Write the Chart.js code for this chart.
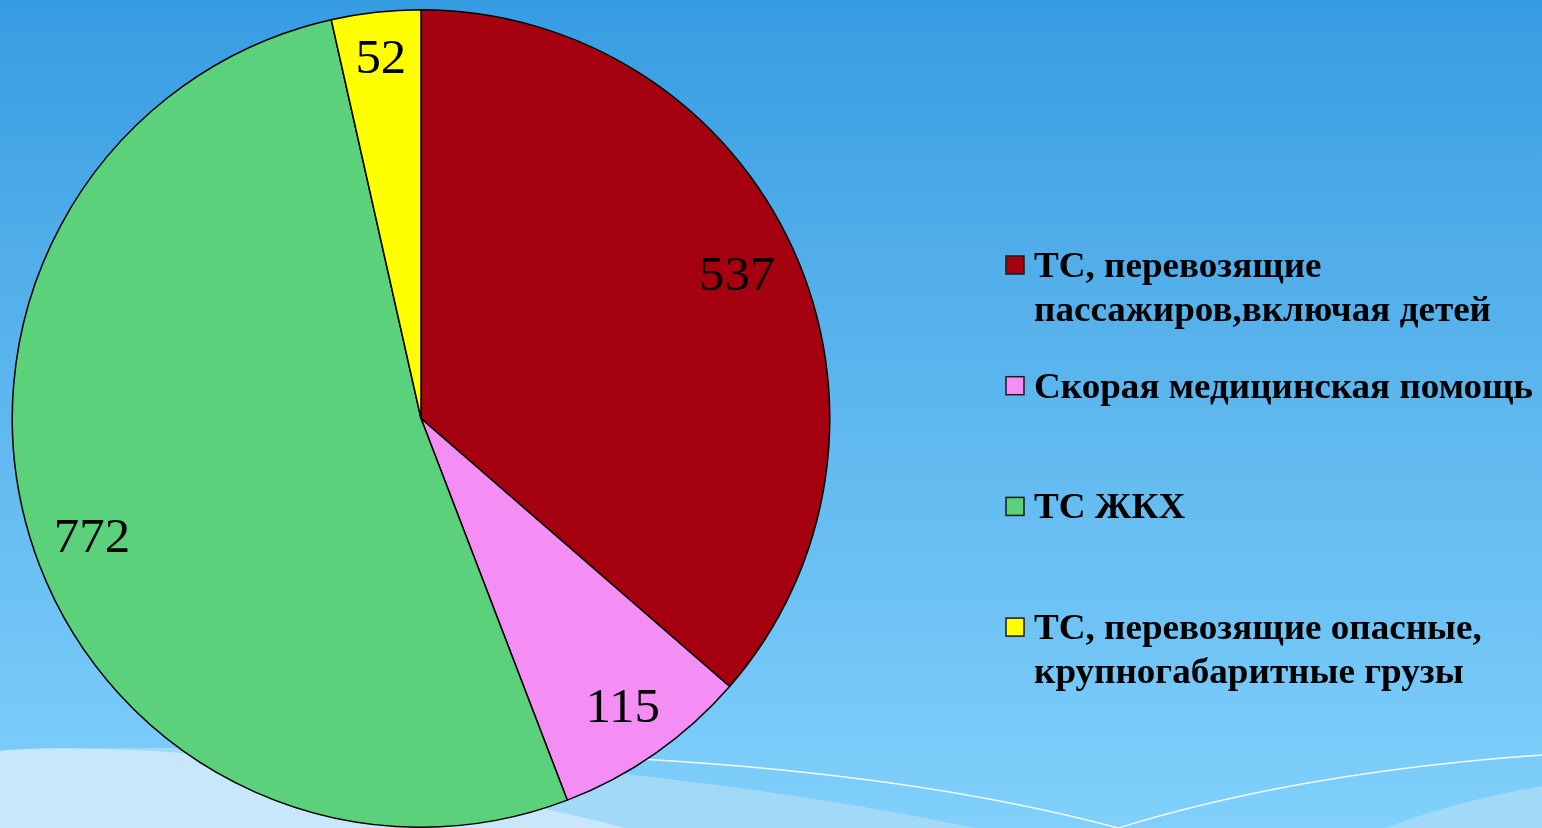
<!DOCTYPE html>
<html>
<head>
<meta charset="utf-8">
<script src="https://cdn.jsdelivr.net/npm/chart.js@4"></script>
<style>
  html, body { margin: 0; padding: 0; background: #5cb4ee; }
  #wrap { position: relative; width: 1542px; height: 828px; }
</style>
</head>
<body>
<div id="wrap"><canvas id="pie" width="1542" height="828"></canvas></div>
<script>
// categories (legend lines) and values
const categories = [
    ["ТС, перевозящие", "пассажиров,включая детей"],
    ["Скорая медицинская помощь"],
    ["ТС ЖКХ"],
    ["ТС, перевозящие опасные,", "крупногабаритные грузы"]
]
const values = [537, 115, 772, 52]
const sliceColors = ["#a5000f", "#f48ef4", "#5cd17b", "#ffff00"]

// slide background with the soft waves at the bottom
const backgroundPlugin = {
    id: "slideBackground",
    beforeDraw(chart) {
        const ctx = chart.ctx
        const w = chart.width, h = chart.height
        ctx.save()
        const g = ctx.createLinearGradient(0, 0, 0, h)
        g.addColorStop(0, "#369ce2")
        g.addColorStop(0.3, "#50ade9")
        g.addColorStop(1, "#80d0fb")
        ctx.fillStyle = g
        ctx.fillRect(0, 0, w, h)

        // middle band
        ctx.fillStyle = "#a2d9f8"
        ctx.beginPath()
        ctx.moveTo(0, 752)
        ctx.bezierCurveTo(250, 738, 650, 760, 975, h)
        ctx.lineTo(0, h)
        ctx.closePath()
        ctx.fill()

        // lightest band
        ctx.fillStyle = "#c9e7fb"
        ctx.beginPath()
        ctx.moveTo(0, 751)
        ctx.bezierCurveTo(60, 744, 300, 745, 625, h)
        ctx.lineTo(0, h)
        ctx.closePath()
        ctx.fill()

        // bottom right light patch
        ctx.fillStyle = "#a2d9f8"
        ctx.beginPath()
        ctx.moveTo(1385, h)
        ctx.quadraticCurveTo(1460, 800, w, 786)
        ctx.lineTo(w, h)
        ctx.closePath()
        ctx.fill()

        // thin white lines
        ctx.strokeStyle = "rgba(255,255,255,0.9)"
        ctx.lineWidth = 1.3
        ctx.beginPath()
        ctx.moveTo(640, 759)
        ctx.quadraticCurveTo(920, 775, 1118, h)
        ctx.stroke()
        ctx.beginPath()
        ctx.moveTo(1118, h)
        ctx.quadraticCurveTo(1300, 772, w, 755)
        ctx.stroke()
        ctx.restore()
    }
}

// value labels inside the slices
const sliceLabels = {
    id: "sliceLabels",
    afterDatasetsDraw(chart, args, opts) {
        const ctx = chart.ctx
        const meta = chart.getDatasetMeta(0)
        ctx.save()
        ctx.font = "48px 'Liberation Serif'"
        ctx.fillStyle = "#000"
        ctx.textAlign = "center"
        ctx.textBaseline = "alphabetic"
        meta.data.forEach((arc, i) => {
            const p = arc.getProps(["x", "y", "startAngle", "endAngle", "outerRadius"], true)
            const mid = (p.startAngle + p.endAngle) / 2 + (opts.angleShift[i] || 0)
            const r = p.outerRadius * opts.radius[i]
            const x = p.x + Math.cos(mid) * r
            const y = p.y + Math.sin(mid) * r
            ctx.save()
            ctx.translate(x, y + 16)
            ctx.scale(opts.stretch, 1)
            ctx.fillText(String(chart.data.datasets[0].data[i]), 0, 0)
            ctx.restore()
        })
        ctx.restore()
    }
}

// legend on the right
const rightLegend = {
    id: "rightLegend",
    afterDraw(chart, args, opts) {
        const ctx = chart.ctx
        const ds = chart.data.datasets[0]
        ctx.save()
        ctx.font = "bold 35px 'Liberation Serif'"
        ctx.textBaseline = "alphabetic"
        ctx.textAlign = "left"
        chart.data.labels.forEach((lines, i) => {
            const base = opts.top + i * opts.step
            ctx.fillStyle = ds.backgroundColor[i]
            ctx.fillRect(opts.left, base - 21, 18, 18)
            ctx.strokeStyle = "#1a1a1a"
            ctx.lineWidth = 1.5
            ctx.strokeRect(opts.left, base - 21, 18, 18)
            ctx.fillStyle = "#000"
            lines.forEach((line, k) => {
                ctx.save()
                ctx.translate(opts.left + 28, base + k * opts.lineHeight)
                ctx.scale(opts.stretch, 1)
                ctx.fillText(line, 0, 0)
                ctx.restore()
            })
        })
        ctx.restore()
    }
}

const ctx = document.getElementById("pie").getContext("2d")
new Chart(ctx, {
    type: "pie",
    data: {
        labels: categories,
        datasets: [{
            data: values,
            backgroundColor: sliceColors,
            borderColor: "#000",
            borderWidth: 1.5
        }]
    },
    options: {
        responsive: false,
        animation: false,
        devicePixelRatio: 1,
        layout: {
            padding: { left: 11, top: 9, right: 1542 - 831, bottom: 0 }
        },
        plugins: {
            legend: { display: false },
            tooltip: { enabled: false },
            sliceLabels: {
                radius: [0.85, 0.86, 0.855, 0.89],
                angleShift: [0, 0, -0.05, 0],
                stretch: 1.06
            },
            rightLegend: { left: 1006, top: 277, step: 120.7, lineHeight: 44, stretch: 1.06 }
        }
    },
    plugins: [backgroundPlugin, sliceLabels, rightLegend]
})
</script>
</body>
</html>
